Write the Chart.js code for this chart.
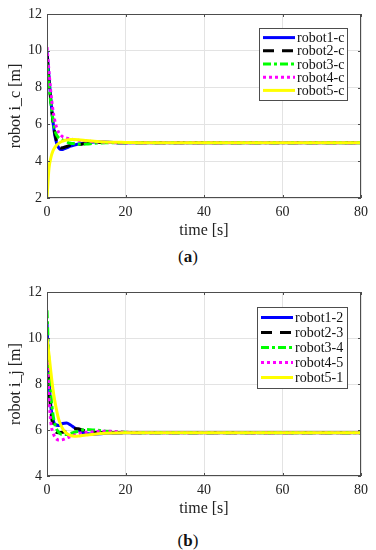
<!DOCTYPE html>
<html><head><meta charset="utf-8">
<script src="https://cdn.jsdelivr.net/npm/chart.js@4.4.1/dist/chart.umd.min.js"></script>
<style>
html,body{margin:0;padding:0;background:#fff;width:376px;height:550px;overflow:hidden;}
.wrap{position:absolute;left:0;width:376px;height:242px;}
.cap{position:absolute;left:0;width:376px;text-align:center;font-family:"Liberation Serif",serif;font-size:17px;color:#111;}
</style></head><body>
<div class="wrap" style="top:0"><canvas id="c1" width="376" height="242"></canvas></div>
<div class="cap" style="top:247px">(<b>a</b>)</div>
<div class="wrap" style="top:278px"><canvas id="c2" width="376" height="242"></canvas></div>
<div class="cap" style="top:531px">(<b>b</b>)</div>
<script>
// ---- data (a) ----
const timeA = [0, 0.5, 1, 1.5, 2, 2.5, 3, 3.5, 4, 5, 6, 7, 8, 10, 12, 15, 20, 25, 30, 80];
const robot1c = [10.0, 8.6, 7.3, 6.2, 5.4, 4.95, 4.72, 4.63, 4.64, 4.72, 4.82, 4.88, 4.93, 5.0, 5.05, 5.04, 5.0, 5.0, 5.0, 5.0];
const robot2c = [9.8, 8.4, 7.2, 6.2, 5.5, 5.05, 4.8, 4.72, 4.73, 4.8, 4.86, 4.88, 4.9, 4.97, 5.02, 5.02, 5.0, 5.0, 5.0, 5.0];
const robot3c = [9.3, 8.2, 7.1, 6.3, 5.7, 5.4, 5.27, 5.2, 5.15, 5.05, 4.98, 4.95, 4.92, 4.93, 4.97, 5.0, 5.0, 5.0, 5.0, 5.0];
const robot4c = [10.2, 8.9, 7.7, 6.8, 6.2, 5.8, 5.55, 5.42, 5.33, 5.25, 5.2, 5.17, 5.14, 5.1, 5.06, 5.03, 5.0, 5.0, 5.0, 5.0];
const robot5c = [2.0, 3.6, 4.2, 4.55, 4.75, 4.88, 4.97, 5.04, 5.09, 5.15, 5.18, 5.18, 5.17, 5.13, 5.09, 5.05, 5.02, 5.0, 5.0, 5.0];
// ---- data (b) ----
const timeB = [0, 0.5, 1, 1.5, 2, 3, 4, 5, 6, 7, 8, 9, 10, 12, 15, 20, 25, 30, 80];
const robot12 = [10.7, 8.3, 7.0, 6.5, 6.25, 6.2, 6.28, 6.3, 6.22, 6.1, 6.0, 5.9, 5.85, 5.82, 5.86, 5.88, 5.88, 5.88, 5.88];
const robot23 = [10.0, 7.9, 6.8, 6.2, 5.95, 5.88, 5.9, 5.95, 6.0, 6.05, 6.05, 6.0, 5.95, 5.9, 5.88, 5.88, 5.88, 5.88, 5.88];
const robot34 = [11.2, 8.9, 7.5, 6.7, 6.25, 5.9, 5.8, 5.8, 5.85, 5.9, 5.95, 6.0, 6.02, 6.0, 5.95, 5.9, 5.88, 5.88, 5.88];
const robot45 = [10.0, 7.5, 6.3, 5.9, 5.7, 5.56, 5.58, 5.65, 5.72, 5.78, 5.84, 5.88, 5.9, 5.93, 5.95, 5.9, 5.88, 5.88, 5.88];
const robot51 = [10.0, 9.3, 8.5, 7.8, 7.25, 6.45, 6.05, 5.85, 5.76, 5.73, 5.74, 5.76, 5.78, 5.82, 5.86, 5.88, 5.88, 5.88, 5.88];
const xTicks = [0, 20, 40, 60, 80];

const FONT = '"Liberation Serif", "Times New Roman", serif';

function pts(t, v){ return t.map((x,i)=>({x:x, y:v[i]})); }

const boxPlugin = {
  id:'box',
  afterDraw(chart){
    const {ctx, chartArea:a} = chart;
    ctx.save();
    ctx.strokeStyle = '#4d4d4d';
    ctx.lineWidth = 1;
    ctx.strokeRect(a.left+0.5, a.top+0.5, a.right-a.left-1, a.bottom-a.top-1);
    // inner tick marks (MATLAB style)
    ctx.beginPath();
    chart.scales.x.ticks.forEach(tk=>{
      const px = Math.round(chart.scales.x.getPixelForValue(tk.value))+0.5;
      ctx.moveTo(px, a.bottom); ctx.lineTo(px, a.bottom-3);
      ctx.moveTo(px, a.top); ctx.lineTo(px, a.top+3);
    });
    chart.scales.y.ticks.forEach(tk=>{
      const py = Math.round(chart.scales.y.getPixelForValue(tk.value))+0.5;
      ctx.moveTo(a.left, py); ctx.lineTo(a.left+3, py);
      ctx.moveTo(a.right, py); ctx.lineTo(a.right-3, py);
    });
    ctx.stroke();
    // legend
    const L = chart.options.plugins.myLegend;
    const ds = chart.data.datasets;
    const x0 = L.x, y0 = L.y, w = L.w, rowH = L.rowH;
    const h = rowH*ds.length + 6;
    ctx.fillStyle = '#fff';
    ctx.fillRect(x0, y0, w, h);
    ctx.strokeStyle = '#4d4d4d';
    ctx.strokeRect(x0+0.5, y0+0.5, w, h);
    ds.forEach((d,i)=>{
      const cy = y0 + 3 + rowH*i + rowH/2;
      ctx.beginPath();
      ctx.setLineDash(d.borderDash || []);
      ctx.strokeStyle = d.borderColor;
      ctx.lineWidth = d.borderWidth;
      ctx.moveTo(x0+4, cy); ctx.lineTo(x0+36, cy);
      ctx.stroke();
      ctx.setLineDash([]);
      ctx.fillStyle = '#111';
      ctx.font = '14px ' + FONT;
      ctx.textBaseline = 'middle';
      ctx.textAlign = 'left';
      ctx.fillText(d.label, x0+38, cy+1);
    });
    ctx.restore();
  }
};

function makeChart(id, t, series, labels, yMin, yMax, yTitle, legendPos){
  const styles = [
    {c:'#0000ff', d:[]},
    {c:'#000000', d:[11,8]},
    {c:'#00ff00', d:[8,3,3,3]},
    {c:'#ff00ff', d:[3,3]},
    {c:'#ffff00', d:[]}
  ];
  const datasets = series.map((s,i)=>({
    label: labels[i],
    data: pts(t, s),
    borderColor: styles[i].c,
    borderDash: styles[i].d,
    borderWidth: 3,
    pointRadius: 0,
    fill: false,
    cubicInterpolationMode: 'monotone',
    order: 5 - i
  }));
  return new Chart(document.getElementById(id), {
    type:'line',
    data:{datasets},
    plugins:[boxPlugin],
    options:{
      responsive:false, animation:false,
      layout:{padding:{top:14, right:15, left:0, bottom:0}},
      plugins:{legend:{display:false}, tooltip:{enabled:false}, myLegend:legendPos},
      scales:{
        x:{type:'linear', min:0, max:80,
          afterBuildTicks: s => { s.ticks = xTicks.map(v=>({value:v})); },
          afterFit: s => { s.height = 44; },
          grid:{color:'#e3e3e3', drawTicks:false},
          border:{display:false},
          ticks:{padding:6, color:'#222', font:{family:FONT, size:14}},
          title:{display:true, text:'time [s]', color:'#222', font:{family:FONT, size:16}, padding:{top:0,bottom:2}}
        },
        y:{min:yMin, max:yMax,
          ticks:{stepSize:2, padding:5, color:'#222', font:{family:FONT, size:14}},
          afterFit: s => { s.width = 47; },
          grid:{color:'#e3e3e3', drawTicks:false},
          border:{display:false},
          title:{display:true, text:yTitle, color:'#222', font:{family:FONT, size:16}, padding:{top:6,bottom:0}}
        }
      }
    }
  });
}

makeChart('c1', timeA, [robot1c, robot2c, robot3c, robot4c, robot5c],
  ['robot1-c','robot2-c','robot3-c','robot4-c','robot5-c'], 2, 12, 'robot i_c [m]',
  {x:259, y:28, w:88, rowH:13.2});
makeChart('c2', timeB, [robot12, robot23, robot34, robot45, robot51],
  ['robot1-2','robot2-3','robot3-4','robot4-5','robot5-1'], 4, 12, 'robot i_j [m]',
  {x:257, y:29, w:90, rowH:15});
</script>
</body></html>
